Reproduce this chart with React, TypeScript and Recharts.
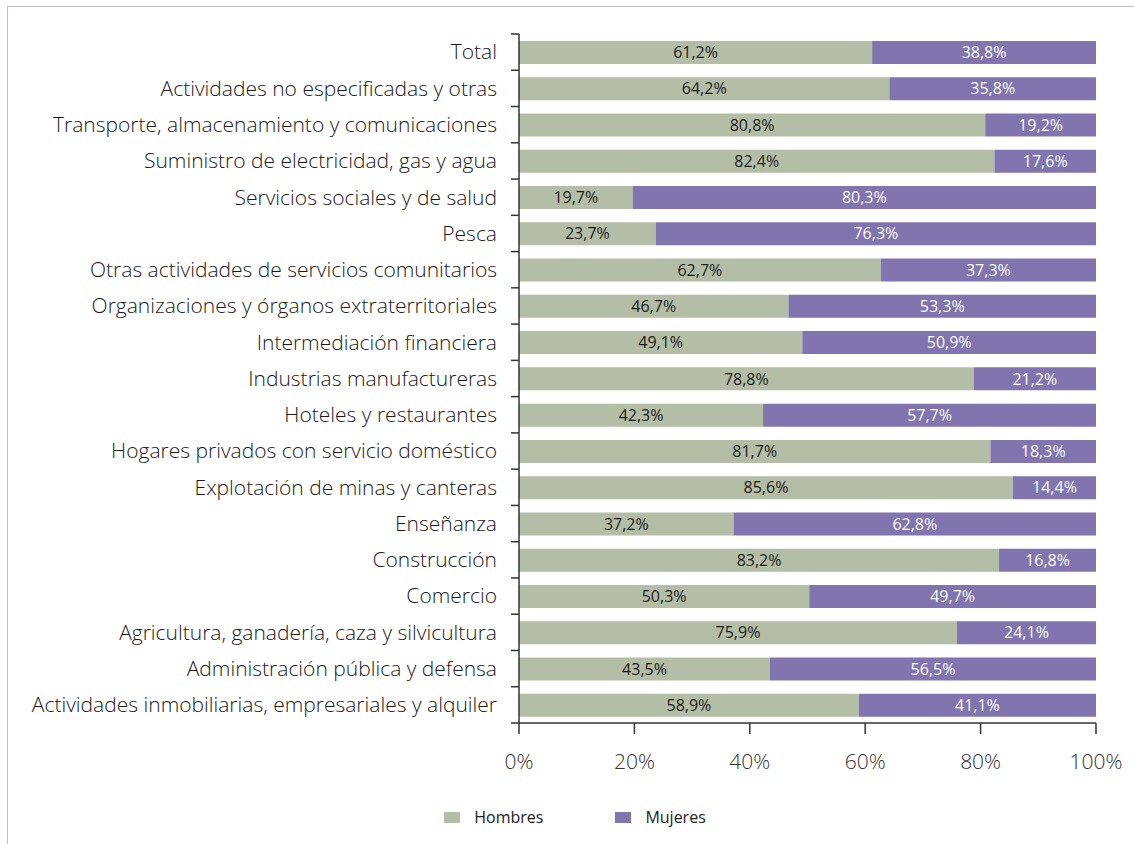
import { BarChart, Bar, XAxis, YAxis, Legend, LabelList } from 'recharts';

const CATEGORIES = [
  'Total',
  'Actividades no especificadas y otras',
  'Transporte, almacenamiento y comunicaciones',
  'Suministro de electricidad, gas y agua',
  'Servicios sociales y de salud',
  'Pesca',
  'Otras actividades de servicios comunitarios',
  'Organizaciones y órganos extraterritoriales',
  'Intermediación financiera',
  'Industrias manufactureras',
  'Hoteles y restaurantes',
  'Hogares privados con servicio doméstico',
  'Explotación de minas y canteras',
  'Enseñanza',
  'Construcción',
  'Comercio',
  'Agricultura, ganadería, caza y silvicultura',
  'Administración pública y defensa',
  'Actividades inmobiliarias, empresariales y alquiler',
];

const HOMBRES = [
  61.2, 64.2, 80.8, 82.4, 19.7, 23.7, 62.7, 46.7, 49.1, 78.8,
  42.3, 81.7, 85.6, 37.2, 83.2, 50.3, 75.9, 43.5, 58.9,
];

const MUJERES = [
  38.8, 35.8, 19.2, 17.6, 80.3, 76.3, 37.3, 53.3, 50.9, 21.2,
  57.7, 18.3, 14.4, 62.8, 16.8, 49.7, 24.1, 56.5, 41.1,
];

const X_TICKS = [0, 20, 40, 60, 80, 100];

const WIDTH = 1134;
const HEIGHT = 844;
const MARGIN = { top: 34, right: 38, left: 0, bottom: 8 };
const X_AXIS_H = 83;
const LEGEND_H = 30;
const Y_AXIS_W = 519;
const Y_TICK_GAP = 22;
const PLOT_H = HEIGHT - MARGIN.top - MARGIN.bottom - X_AXIS_H - LEGEND_H;
const BAND = PLOT_H / CATEGORIES.length;

const GREEN = '#b4bea6';
const PURPLE = '#8075ae';
const AXIS = '#333';
const FONT = '"Open Sans", sans-serif';

const data = CATEGORIES.map((name, i) => ({
  name,
  hombres: HOMBRES[i],
  mujeres: MUJERES[i],
}));

const pct = (v: any) => `${Number(v).toFixed(1).replace('.', ',')}%`;

function CategoryTick(props: any) {
  const { x, y, payload, index } = props;
  const axisX = x + Y_TICK_GAP;
  const half = BAND / 2;
  return (
    <g>
      <text
        x={x}
        y={y}
        dy="0.35em"
        textAnchor="end"
        fill="#1a1a1a"
        fontSize={21}
        fontWeight={300}
        fontFamily={FONT}
      >
        {payload.value}
      </text>
      <line x1={axisX - 8} x2={axisX} y1={y - half} y2={y - half} stroke={AXIS} strokeWidth={1.5} />
      {index === CATEGORIES.length - 1 && (
        <line x1={axisX - 8} x2={axisX} y1={y + half} y2={y + half} stroke={AXIS} strokeWidth={1.5} />
      )}
    </g>
  );
}

function LegendContent(props: any) {
  const { payload } = props;
  return (
    <div style={{ display: 'flex', justifyContent: 'center', gap: 72, paddingLeft: 54, fontFamily: FONT }}>
      {(payload || []).map((item: any) => (
        <div key={item.value} style={{ display: 'flex', alignItems: 'center' }}>
          <span style={{ width: 16, height: 11, background: item.color, marginRight: 14 }} />
          <span style={{ fontSize: 16, color: '#222' }}>{item.value}</span>
        </div>
      ))}
    </div>
  );
}

export default function App() {
  return (
    <div style={{ position: 'absolute', left: 0, top: 0, width: WIDTH, height: HEIGHT, background: '#fff' }}>
      <div
        style={{
          position: 'absolute',
          left: 7,
          top: 6,
          right: 0,
          bottom: 0,
          borderTop: '1px solid #bdb9dc',
          borderLeft: '1px solid #bdb9dc',
        }}
      />
      <BarChart
        width={WIDTH}
        height={HEIGHT}
        data={data}
        layout="vertical"
        margin={MARGIN}
        barSize={23}
      >
        <XAxis
          type="number"
          domain={[0, 100]}
          ticks={X_TICKS}
          height={X_AXIS_H}
          tickFormatter={(v) => `${v}%`}
          stroke={AXIS}
          strokeWidth={1.5}
          tickSize={11}
          tickMargin={20}
          tick={{ fill: '#333', fontSize: 21, fontWeight: 300, fontFamily: FONT }}
        />
        <YAxis
          type="category"
          dataKey="name"
          width={Y_AXIS_W}
          stroke={AXIS}
          strokeWidth={1.5}
          tickLine={false}
          tickSize={0}
          tickMargin={Y_TICK_GAP}
          interval={0}
          tick={<CategoryTick />}
        />
        <Legend
          verticalAlign="bottom"
          height={LEGEND_H}
          content={<LegendContent />}
        />
        <Bar dataKey="hombres" name="Hombres" stackId="a" fill={GREEN} isAnimationActive={false}>
          <LabelList
            dataKey="hombres"
            position="center"
            formatter={pct}
            fill="#1a1a1a"
            fontSize={16}
            fontFamily={FONT}
          />
        </Bar>
        <Bar dataKey="mujeres" name="Mujeres" stackId="a" fill={PURPLE} isAnimationActive={false}>
          <LabelList
            dataKey="mujeres"
            position="center"
            formatter={pct}
            fill="#fff"
            fontSize={16}
            fontFamily={FONT}
          />
        </Bar>
      </BarChart>
    </div>
  );
}
